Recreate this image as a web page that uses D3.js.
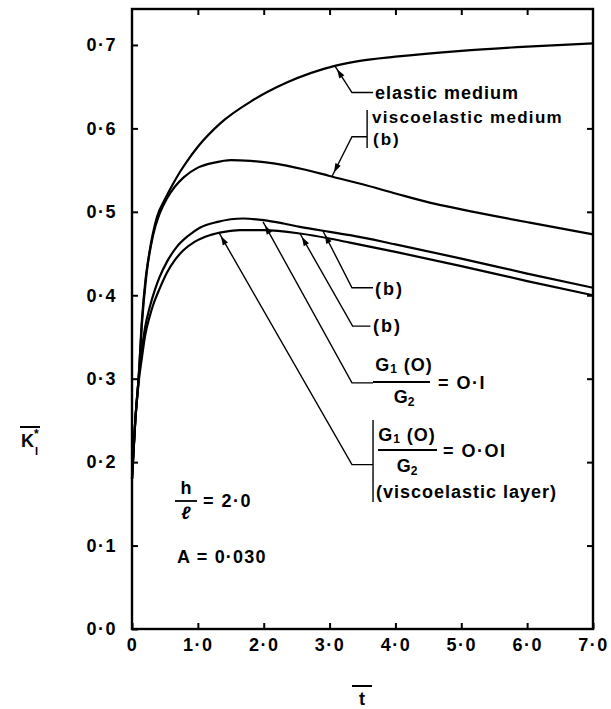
<!DOCTYPE html>
<html><head><meta charset="utf-8">
<script src="https://cdn.jsdelivr.net/npm/d3@7"></script>
<style>
html,body{margin:0;padding:0;background:#fff;}
text{font-family:"Liberation Sans",Arial,sans-serif;font-weight:bold;fill:#000;}
</style></head>
<body><svg id="chart" width="611" height="709"></svg>
<script>
// ---- data ----
const xTicks = [0,1,2,3,4,5,6,7];
const xTickLabels = ["0","1·0","2·0","3·0","4·0","5·0","6·0","7·0"];
const yTicks = [0,0.1,0.2,0.3,0.4,0.5,0.6,0.7];
const yTickLabels = ["0·0","0·1","0·2","0·3","0·4","0·5","0·6","0·7"];

const tElastic = [0,0.05,0.1,0.15,0.2,0.27,0.38,0.5,0.62,0.73,0.83,1.0,1.34,1.84,2.35,3.08,3.46,4.0,5.0,6.0,7.0];
const kElastic = [0.18,0.25,0.30,0.37,0.415,0.454,0.494,0.515,0.533,0.548,0.560,0.578,0.606,0.634,0.655,0.675,0.681,0.686,0.693,0.698,0.702];

const tVisco = [0,0.05,0.1,0.15,0.22,0.32,0.42,0.53,0.65,0.78,1.0,1.25,1.5,1.8,2.15,2.6,3.0,3.5,4.0,4.52,5.0,6.04,7.0];
const kVisco = [0.18,0.25,0.30,0.365,0.425,0.472,0.498,0.516,0.530,0.541,0.553,0.559,0.562,0.561,0.558,0.551,0.543,0.533,0.522,0.511,0.503,0.487,0.473];

const tLayer01 = [0,0.05,0.1,0.15,0.2,0.27,0.35,0.42,0.53,0.68,0.85,1.03,1.3,1.69,2.0,2.3,2.55,3.0,3.31,4.0,5.0,6.0,7.0];
const kLayer01 = [0.18,0.25,0.30,0.335,0.362,0.386,0.407,0.422,0.440,0.458,0.471,0.481,0.488,0.492,0.490,0.486,0.482,0.476,0.472,0.461,0.444,0.426,0.409];

const tLayer001 = [0,0.05,0.1,0.15,0.2,0.27,0.32,0.42,0.53,0.65,0.78,0.95,1.18,1.4,1.64,2.0,2.55,3.0,3.31,4.0,5.0,6.0,7.0];
const kLayer001 = [0.18,0.25,0.295,0.325,0.352,0.375,0.388,0.408,0.427,0.442,0.454,0.464,0.472,0.476,0.478,0.478,0.474,0.468,0.463,0.452,0.435,0.417,0.400];

// annotation arrows: tip (t,K), elbow (t,K), end t
const arrowTipT   = [3.08, 3.04, 1.32, 1.99, 2.55, 2.90];
const arrowTipK   = [0.675,0.543,0.475,0.488,0.474,0.477];
const arrowElbowT = [3.34, 3.34, 3.34, 3.34, 3.35, 3.34];
const arrowElbowK = [0.643,0.590,0.197,0.295,0.363,0.409];
const arrowEndT   = [3.66, 3.57, 3.66, 3.66, 3.62, 3.66];

// ---- layout ----
const svg = d3.select("#chart");
const L = 132, R = 593, T = 9, B = 629;
const x = d3.scaleLinear().domain([0,7]).range([L,R]);
const y = d3.scaleLinear().domain([0,0.7431]).range([B,T]);

// frame
svg.append("rect").attr("x",L).attr("y",T).attr("width",R-L).attr("height",B-T)
  .attr("fill","none").attr("stroke","#000").attr("stroke-width",2.4);

function styleAxis(g){ g.select(".domain").remove(); g.selectAll("line").attr("stroke","#000").attr("stroke-width",2); }

svg.append("g").attr("transform",`translate(0,${B})`)
  .call(d3.axisBottom(x).tickValues(xTicks).tickSize(-6).tickPadding(9)
    .tickFormat((d,i)=>xTickLabels[i]))
  .call(styleAxis)
  .selectAll("text").attr("font-size",18).attr("letter-spacing",1.5)
  .attr("font-family","Liberation Sans, Arial, sans-serif").attr("font-weight","bold");
svg.append("g").attr("transform",`translate(0,${T})`)
  .call(d3.axisTop(x).tickValues(xTicks.slice(1,7)).tickSize(-6).tickFormat(""))
  .call(styleAxis);
svg.append("g").attr("transform",`translate(${L},0)`)
  .call(d3.axisLeft(y).tickValues(yTicks).tickSize(-6).tickPadding(15)
    .tickFormat((d,i)=>yTickLabels[i]))
  .call(styleAxis)
  .selectAll("text").attr("font-size",18).attr("letter-spacing",1.5)
  .attr("font-family","Liberation Sans, Arial, sans-serif").attr("font-weight","bold");
svg.append("g").attr("transform",`translate(${R},0)`)
  .call(d3.axisRight(y).tickValues(yTicks.slice(1,7)).tickSize(-6).tickFormat(""))
  .call(styleAxis);

// curves
const line = d3.line().x(d=>x(d[0])).y(d=>y(d[1])).curve(d3.curveMonotoneX);
[[tElastic,kElastic],[tVisco,kVisco],[tLayer01,kLayer01],[tLayer001,kLayer001]].forEach(([ts,ks])=>{
  svg.append("path").datum(ts.map((t,i)=>[t,ks[i]])).attr("d",line)
    .attr("fill","none").attr("stroke","#000").attr("stroke-width",2.2);
});

// arrows
arrowTipT.forEach((tt,i)=>{
  const tx=x(tt), ty=y(arrowTipK[i]), ex=x(arrowElbowT[i]), ey=y(arrowElbowK[i]), nx=x(arrowEndT[i]);
  svg.append("path").attr("d",`M${tx},${ty}L${ex},${ey}L${nx},${ey}`)
    .attr("fill","none").attr("stroke","#000").attr("stroke-width",1.4);
  const dx=ex-tx, dy=ey-ty, len=Math.hypot(dx,dy), ux=dx/len, uy=dy/len, px=-uy, py=ux;
  const ax=tx+ux*4, ay=ty+uy*4, bx=tx+ux*13, by=ty+uy*13;
  svg.append("path").attr("d",`M${ax},${ay}L${bx+px*3},${by+py*3}L${bx-px*3},${by-py*3}Z`).attr("fill","#000");
});

// brackets
svg.append("line").attr("x1",x(3.57)).attr("x2",x(3.57)).attr("y1",110).attr("y2",148).attr("stroke","#000").attr("stroke-width",1.4);
svg.append("line").attr("x1",x(3.66)).attr("x2",x(3.66)).attr("y1",420).attr("y2",502).attr("stroke","#000").attr("stroke-width",1.4);

function txt(s,xx,yy,size,anchor,ls){
  return svg.append("text").attr("x",xx).attr("y",yy).attr("font-size",size||18)
    .attr("text-anchor",anchor||"start").attr("letter-spacing",ls==null?1:ls).attr("dominant-baseline","central").text(s);
}
txt("elastic  medium",375,93,18);
txt("viscoelastic  medium",372,117,17,"start",1.3);
txt("(b)",373,139,17,"start",2);
txt("(b)",375,289,18,"start",2);
txt("(b)",373,326,18,"start",2);

function frac(cx,ny,by,dy,x1,x2,rhs,rx){
  const t1=svg.append("text").attr("x",cx).attr("y",ny).attr("font-size",18).attr("text-anchor","middle").attr("letter-spacing",1).attr("dominant-baseline","central");
  t1.append("tspan").text("G");
  t1.append("tspan").attr("font-size",12).attr("dy",4).text("1");
  t1.append("tspan").attr("dy",-4).text(" (O)");
  svg.append("line").attr("x1",x1).attr("x2",x2).attr("y1",by).attr("y2",by).attr("stroke","#000").attr("stroke-width",1.8);
  const t2=svg.append("text").attr("x",cx).attr("y",dy).attr("font-size",18).attr("text-anchor","middle").attr("dominant-baseline","central");
  t2.append("tspan").text("G");
  t2.append("tspan").attr("font-size",12).attr("dy",5).text("2");
  txt(rhs,rx,by+1,18,"start",1.5);
}
frac(404,365,382,397,373,430,"= O·I",438);
frac(407,435,450,466,378,437,"= O·OI",443);
txt("(viscoelastic  layer)",376,492,18);

// h/l = 2·0
txt("h",186,488,18,"middle",0);
svg.append("line").attr("x1",175).attr("x2",197).attr("y1",501).attr("y2",501).attr("stroke","#000").attr("stroke-width",1.8);
svg.append("text").attr("x",186).attr("y",513).attr("font-size",18).attr("text-anchor","middle").attr("dominant-baseline","central").attr("font-style","italic").text("ℓ");
txt("= 2·0",203,501,18,"start",1.5);
txt("A = 0·030",177,557,18,"start",1.2);

// axis labels
svg.append("line").attr("x1",352).attr("x2",372).attr("y1",686).attr("y2",686).attr("stroke","#000").attr("stroke-width",2);
txt("t",362,699,18,"middle",0);
svg.append("line").attr("x1",20).attr("x2",40).attr("y1",427).attr("y2",427).attr("stroke","#000").attr("stroke-width",2);
txt("K",21,441,18,"start",0);
txt("*",34,434,12,"start",0);
txt("I",35,451,11,"start",0);
</script></body></html>
